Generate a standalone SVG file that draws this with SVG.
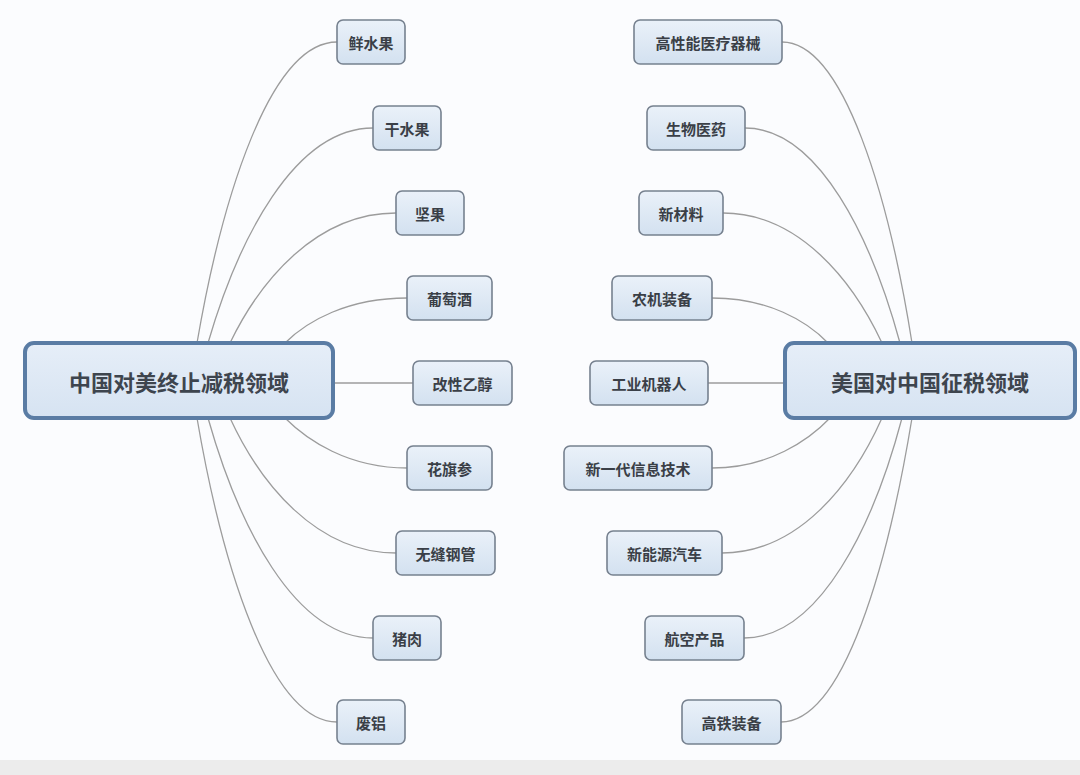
<svg xmlns="http://www.w3.org/2000/svg" width="1080" height="775" viewBox="0 0 1080 775">
<defs>
<linearGradient id="gChild" x1="0" y1="0" x2="0" y2="1">
<stop offset="0" stop-color="#eaf1f9"/>
<stop offset="1" stop-color="#d3e1f0"/>
</linearGradient>
<linearGradient id="gRoot" x1="0" y1="0" x2="0" y2="1">
<stop offset="0" stop-color="#e6eef8"/>
<stop offset="1" stop-color="#d6e3f2"/>
</linearGradient>
<style>
.child rect{fill:url(#gChild);stroke:#76818f;stroke-width:1.6}
.child text{font-family:"Noto Sans CJK SC","Noto Sans",sans-serif;font-size:15px;font-weight:bold;fill:#3a3f47;text-anchor:middle;dominant-baseline:central}
.root rect{fill:url(#gRoot);stroke:#5a7ca4;stroke-width:4}
.root text{font-family:"Noto Sans CJK SC","Noto Sans",sans-serif;font-size:22px;font-weight:bold;fill:#3e454e;text-anchor:middle;dominant-baseline:central}
#connectors path{fill:none;stroke:#9c9c9c;stroke-width:1.3}
</style>
</defs>
<rect x="0" y="0" width="1080" height="775" fill="#fbfcfe"/>
<rect x="0" y="760" width="1080" height="15" fill="#ececec"/>
<g id="connectors">
<path d="M197,343 C222,198 270,42 337,42"/>
<path d="M208,343 C238,240 294,128 373,128"/>
<path d="M230,343 C260,281 316,213 396,213"/>
<path d="M285,343 C307,321 348,298 407,298"/>
<path d="M333,383 L413,383"/>
<path d="M285,418 C307,440 348,468 407,468"/>
<path d="M230,418 C260,483 316,553 396,553"/>
<path d="M208,418 C238,524 294,638 373,638"/>
<path d="M197,418 C222,564 270,722 337,722"/>
<path d="M912,343 C889,198 844,42 782,42"/>
<path d="M900,343 C872,240 819,128 745,128"/>
<path d="M882,343 C853,281 799,213 723,213"/>
<path d="M828,343 C807,321 768,298 712,298"/>
<path d="M785,383 L708,383"/>
<path d="M830,418 C809,440 769,468 712,468"/>
<path d="M882,418 C853,483 799,553 722,553"/>
<path d="M902,418 C874,524 820,638 744,638"/>
<path d="M912,418 C888,564 844,722 781,722"/>
</g>
<g id="root-left" class="root"><rect x="25" y="343" width="308" height="75" rx="9"/><text x="179" y="381">中国对美终止减税领域</text></g>
<g id="root-right" class="root"><rect x="785" y="343" width="290" height="75" rx="9"/><text x="930" y="381">美国对中国征税领域</text></g>
<g id="n-xianshuiguo" class="child"><rect x="337" y="20" width="68" height="44" rx="6"/><text x="371" y="42">鲜水果</text></g>
<g id="n-ganshuiguo" class="child"><rect x="373" y="106" width="68" height="44" rx="6"/><text x="407" y="128">干水果</text></g>
<g id="n-jianguo" class="child"><rect x="396" y="191" width="68" height="44" rx="6"/><text x="430" y="213">坚果</text></g>
<g id="n-putaojiu" class="child"><rect x="407" y="276" width="85" height="44" rx="6"/><text x="449.5" y="298">葡萄酒</text></g>
<g id="n-gaixingyichun" class="child"><rect x="413" y="361" width="99" height="44" rx="6"/><text x="462.5" y="383">改性乙醇</text></g>
<g id="n-huaqishen" class="child"><rect x="407" y="446" width="85" height="44" rx="6"/><text x="449.5" y="468">花旗参</text></g>
<g id="n-wufenggangguan" class="child"><rect x="396" y="531" width="99" height="44" rx="6"/><text x="445.5" y="553">无缝钢管</text></g>
<g id="n-zhurou" class="child"><rect x="373" y="616" width="68" height="44" rx="6"/><text x="407" y="638">猪肉</text></g>
<g id="n-feilv" class="child"><rect x="337" y="700" width="68" height="44" rx="6"/><text x="371" y="722">废铝</text></g>
<g id="n-yiliao" class="child"><rect x="634" y="20" width="148" height="44" rx="6"/><text x="708" y="42">高性能医疗器械</text></g>
<g id="n-shengwu" class="child"><rect x="647" y="106" width="98" height="44" rx="6"/><text x="696" y="128">生物医药</text></g>
<g id="n-xincailiao" class="child"><rect x="639" y="191" width="84" height="44" rx="6"/><text x="681" y="213">新材料</text></g>
<g id="n-nongji" class="child"><rect x="612" y="276" width="100" height="44" rx="6"/><text x="662" y="298">农机装备</text></g>
<g id="n-jiqiren" class="child"><rect x="590" y="361" width="118" height="44" rx="6"/><text x="649" y="383">工业机器人</text></g>
<g id="n-xinxi" class="child"><rect x="564" y="446" width="148" height="44" rx="6"/><text x="638" y="468">新一代信息技术</text></g>
<g id="n-qiche" class="child"><rect x="607" y="531" width="115" height="44" rx="6"/><text x="664.5" y="553">新能源汽车</text></g>
<g id="n-hangkong" class="child"><rect x="645" y="616" width="99" height="44" rx="6"/><text x="694.5" y="638">航空产品</text></g>
<g id="n-gaotie" class="child"><rect x="682" y="700" width="99" height="44" rx="6"/><text x="731.5" y="722">高铁装备</text></g>
</svg>
